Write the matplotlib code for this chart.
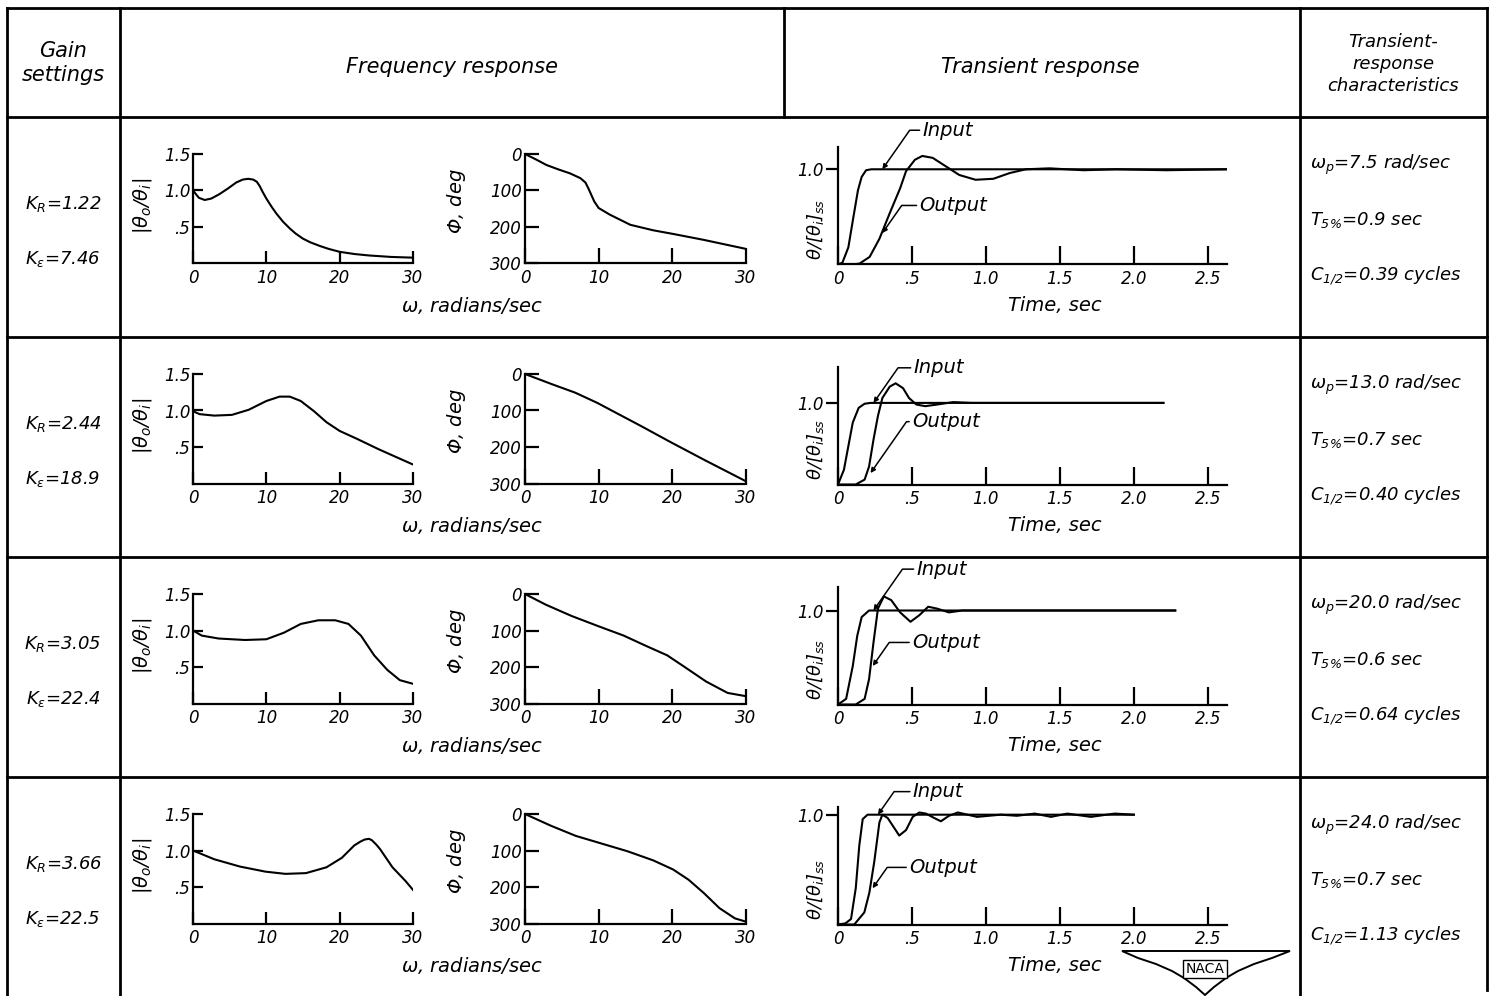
import matplotlib
matplotlib.use("Agg")
import matplotlib.pyplot as plt
from matplotlib.patches import Polygon

# ---- gain settings and transient-response characteristics, one entry per case ----
k_r = ["1.22", "2.44", "3.05", "3.66"]
k_e = ["7.46", "18.9", "22.4", "22.5"]
omega_p = ["7.5", "13.0", "20.0", "24.0"]
t_5pct = ["0.9", "0.7", "0.6", "0.7"]
c_half = ["0.39", "0.40", "0.64", "1.13"]

# ---- frequency response: amplitude ratio |theta_o/theta_i| vs omega, rad/sec ----
mag_w = [
    [0, 0.8, 1.6, 2.5, 3.6, 4.8, 5.9, 6.8, 7.5, 8.2, 8.7, 9.1, 9.5, 10, 10.7, 11.4,
     12.3, 13.2, 14, 15, 16, 17.3, 18.5, 20, 22, 24, 27, 30],
    [0, 0.9, 2.9, 5.3, 7.6, 10, 11.8, 13.2, 14.7, 16.5, 18.2, 20, 22.4, 25.3, 28.2, 30],
    [0, 1.2, 3.5, 7.1, 10, 12.4, 14.7, 17.1, 19.4, 21.2, 22.9, 24.7, 26.5, 28.2, 30],
    [0, 2.9, 6.4, 9.9, 12.6, 15.4, 18.2, 20.3, 22, 22.8, 23.4, 24.0, 24.4, 25, 25.5,
     27.2, 29, 30],
]
mag_val = [
    [1.0, 0.9, 0.87, 0.89, 0.95, 1.03, 1.11, 1.15, 1.16, 1.15, 1.12, 1.06, 0.98, 0.89,
     0.78, 0.68, 0.57, 0.48, 0.41, 0.34, 0.29, 0.24, 0.2, 0.16, 0.13, 0.11, 0.09, 0.08],
    [0.99, 0.95, 0.93, 0.94, 1.01, 1.13, 1.19, 1.19, 1.13, 0.99, 0.84, 0.72, 0.61, 0.47, 0.34, 0.26],
    [1.0, 0.93, 0.89, 0.87, 0.88, 0.97, 1.09, 1.14, 1.14, 1.09, 0.93, 0.66, 0.46, 0.32, 0.27],
    [1.0, 0.88, 0.78, 0.71, 0.68, 0.69, 0.77, 0.9, 1.07, 1.12, 1.15, 1.16, 1.14, 1.08, 1.02,
     0.77, 0.58, 0.46],
]

# ---- frequency response: phase lag, deg ----
ph_w = [
    [0, 1.5, 2.9, 4.5, 6.1, 7.5, 8.2, 8.6, 9.0, 9.4, 10, 11.5, 14.3, 17.4, 20.1, 24.2, 30],
    [0, 3.8, 6.8, 9.8, 12.7, 15.7, 19.8, 24.5, 30],
    [0, 2.8, 6.3, 9.8, 13.4, 16.3, 19.3, 21.6, 24.6, 27.5, 30],
    [0, 3.5, 6.9, 10.4, 13.9, 17.4, 20.1, 22.2, 24.3, 26.4, 28.5, 30],
]
ph_val = [
    [0, 15, 30, 42, 53, 66, 78, 94, 112, 130, 148, 166, 194, 209, 219, 235, 260],
    [0, 29, 51, 79, 110, 142, 187, 237, 294],
    [0, 29, 60, 87, 114, 141, 168, 199, 240, 271, 280],
    [0, 32, 60, 81, 102, 127, 152, 180, 217, 258, 286, 295],
]

# ---- transient response, theta/[theta_i]ss vs time, sec ----
in_t = [
    [0, 0.03, 0.07, 0.1, 0.135, 0.16, 0.19, 0.225, 2.63],
    [0, 0.04, 0.07, 0.1, 0.14, 0.18, 0.22, 2.2],
    [0, 0.055, 0.1, 0.13, 0.16, 0.21, 2.28],
    [0, 0.05, 0.088, 0.12, 0.144, 0.167, 0.2, 2.0],
]
in_val = [
    [0, 0.02, 0.18, 0.46, 0.78, 0.92, 0.99, 1.0, 1.0],
    [0, 0.18, 0.47, 0.76, 0.94, 0.99, 1.0, 1.0],
    [0, 0.06, 0.41, 0.73, 0.93, 1.0, 1.0],
    [0, 0.01, 0.05, 0.33, 0.72, 0.96, 1.0, 1.0],
]
out_t = [
    [0, 0.1, 0.146, 0.214, 0.28, 0.35, 0.42, 0.46, 0.52, 0.57, 0.64, 0.73, 0.82, 0.93,
     1.05, 1.16, 1.27, 1.43, 1.66, 1.88, 2.22, 2.63],
    [0, 0.12, 0.18, 0.21, 0.24, 0.27, 0.3, 0.35, 0.39, 0.44, 0.48, 0.53, 0.59, 0.67,
     0.78, 0.9, 2.2],
    [0, 0.12, 0.18, 0.21, 0.24, 0.27, 0.31, 0.36, 0.42, 0.49, 0.55, 0.61, 0.67, 0.75,
     0.84, 2.28],
    [0, 0.11, 0.178, 0.212, 0.245, 0.28, 0.3, 0.336, 0.37, 0.414, 0.46, 0.505, 0.55,
     0.595, 0.65, 0.696, 0.75, 0.81, 0.876, 0.94, 1.1, 1.21, 1.33, 1.44, 1.55, 1.71,
     1.87, 2.0],
]
out_val = [
    [0, 0, 0.01, 0.08, 0.27, 0.54, 0.8, 0.98, 1.1, 1.14, 1.12, 1.03, 0.94, 0.89,
     0.9, 0.96, 1.0, 1.01, 0.99, 1.0, 0.99, 1.0],
    [0, 0, 0.06, 0.22, 0.55, 0.84, 1.06, 1.2, 1.24, 1.18, 1.06, 0.98, 0.96, 0.98,
     1.01, 1.0, 1.0],
    [0, 0, 0.06, 0.27, 0.66, 1.02, 1.15, 1.11, 0.98, 0.88, 0.95, 1.04, 1.02, 0.98,
     1.0, 1.0],
    [0, 0, 0.11, 0.29, 0.57, 0.93, 1.0, 0.97, 0.9, 0.81, 0.86, 0.98, 1.02,
     1.01, 0.97, 0.94, 0.99, 1.02, 1.0, 0.98, 1.0, 0.99, 1.01, 0.98, 1.01, 0.98,
     1.01, 1.0],
]

# label positions (time, value) and the curve points their leaders point at
input_label = [(0.57, 1.41), (0.51, 1.43), (0.53, 1.44), (0.505, 1.21)]
input_tip = [(0.30, 1.0), (0.24, 1.0), (0.24, 1.0), (0.27, 1.0)]
output_label = [(0.55, 0.62), (0.50, 0.77), (0.50, 0.66), (0.48, 0.52)]
output_tip = [(0.30, 0.33), (0.22, 0.14), (0.235, 0.41), (0.234, 0.33)]

time_ticks = [0, 0.5, 1.0, 1.5, 2.0, 2.5]
time_labels = ["0", ".5", "1.0", "1.5", "2.0", "2.5"]

W, H = 1492, 996
plt.rcParams["font.family"] = ["DejaVu Sans"]
plt.rcParams["font.style"] = "italic"
plt.rcParams["mathtext.fontset"] = "dejavusans"

fig = plt.figure(figsize=(W / 100, H / 100), dpi=100)
fig.patch.set_facecolor("white")

# full-figure layer in pixel units for the ruled table and its lettering
grid = fig.add_axes([0, 0, 1, 1], zorder=0)
grid.set_xlim(0, W)
grid.set_ylim(H, 0)
grid.axis("off")

row_tops = [117, 337, 557, 777]
lw_rule = 2.0
for y in [8] + row_tops:
    grid.plot([7, 1487], [y, y], color="k", lw=lw_rule)
for x in [7, 120, 1300]:
    grid.plot([x, x], [8, 996], color="k", lw=lw_rule)
grid.plot([1487, 1487], [8, 990], color="k", lw=lw_rule)
grid.plot([784, 784], [8, 117], color="k", lw=lw_rule)

grid.text(63, 63, "Gain\nsettings", ha="center", va="center", fontsize=15, linespacing=1.3)
grid.text(452, 67, "Frequency response", ha="center", va="center", fontsize=15)
grid.text(1040, 67, "Transient response", ha="center", va="center", fontsize=15)
grid.text(1393, 64, "Transient-\nresponse\ncharacteristics", ha="center", va="center",
          fontsize=13, linespacing=1.3)


def box(left, right, top, bottom):
    return [left / W, 1 - bottom / H, (right - left) / W, (bottom - top) / H]


def style(ax):
    for side in ("top", "right"):
        ax.spines[side].set_visible(False)
    for side in ("left", "bottom"):
        ax.spines[side].set_linewidth(1.6)
    ax.set_facecolor("none")
    ax.tick_params(labelsize=12, width=1.6, colors="k")


tr_ytop = [1.234, 1.44, 1.25, 1.07]
curve = dict(color="k", lw=1.5, solid_joinstyle="round")
arrow = dict(arrowstyle="-|>", connectionstyle="angle,angleA=0,angleB=55,rad=0",
             color="k", lw=1.1, shrinkA=0, shrinkB=0, mutation_scale=7,
             relpos=(0, 0.5))

for i, top in enumerate(row_tops):
    # amplitude ratio
    ax = fig.add_axes(box(193, 413, top + 37, top + 146.5))
    style(ax)
    ax.plot(mag_w[i], mag_val[i], **curve)
    ax.set_xlim(0, 30)
    ax.set_ylim(0, 1.5)
    ax.set_xticks([0, 10, 20, 30], ["0", "10", "20", "30"])
    ax.set_yticks([0.5, 1.0, 1.5], [".5", "1.0", "1.5"])
    ax.tick_params(axis="x", direction="in", length=9, pad=4)
    ax.tick_params(axis="y", direction="in", length=7, pad=2)

    # phase
    ax = fig.add_axes(box(525, 746, top + 37, top + 146.5))
    style(ax)
    ax.plot(ph_w[i], ph_val[i], **curve)
    ax.set_xlim(0, 30)
    ax.set_ylim(300, 0)
    ax.set_xticks([0, 10, 20, 30], ["0", "10", "20", "30"])
    ax.set_yticks([0, 100, 200, 300], ["0", "100", "200", "300"])
    ax.tick_params(axis="x", direction="in", length=11, pad=4)
    ax.tick_params(axis="y", direction="in", length=10, pad=2)

    # transient
    ax = fig.add_axes(box(838, 1227, top + 30, top + 147.5))
    style(ax)
    ax.plot(in_t[i], in_val[i], **curve)
    ax.plot(out_t[i], out_val[i], **curve)
    ax.set_xlim(0, 2.63)
    ax.set_ylim(0, tr_ytop[i])
    ax.set_xticks(time_ticks, time_labels)
    ax.set_yticks([1.0], ["1.0"])
    ax.tick_params(axis="x", direction="in", length=13, pad=4)
    ax.tick_params(axis="y", direction="out", length=9, pad=1)
    ax.annotate("Input", xy=input_tip[i], xytext=input_label[i], ha="left", va="center",
                fontsize=14, arrowprops=arrow, annotation_clip=False)
    ax.annotate("Output", xy=output_tip[i], xytext=output_label[i], ha="left", va="center",
                fontsize=14, arrowprops=arrow, annotation_clip=False)

    # axis titles
    grid.text(142, top + 89, r"$|\theta_o/\theta_i|$", rotation=90, ha="center", va="center",
              fontsize=14)
    grid.text(457, top + 84, r"$\Phi$, deg", rotation=90, ha="center", va="center", fontsize=14)
    grid.text(815, top + 112, r"$\theta/[\theta_i]_{ss}$", rotation=90, ha="center",
              va="center", fontsize=13)
    grid.text(472, top + 188, r"$\omega$, radians/sec", ha="center", va="center", fontsize=14)
    grid.text(1055, top + 188, "Time, sec", ha="center", va="center", fontsize=14)

    # gain settings
    grid.text(63, top + 87, r"$K_R$=" + k_r[i], ha="center", va="center", fontsize=13)
    grid.text(63, top + 142, r"$K_\epsilon$=" + k_e[i], ha="center", va="center", fontsize=13)

    # transient-response characteristics
    grid.text(1310, top + 48, r"$\omega_p$=" + omega_p[i] + " rad/sec", ha="left",
              va="center", fontsize=13)
    grid.text(1310, top + 103, r"$T_{5\%}$=" + t_5pct[i] + " sec", ha="left", va="center",
              fontsize=13)
    grid.text(1310, top + 159, r"$C_{1/2}$=" + c_half[i] + " cycles", ha="left",
              va="center", fontsize=13)

# NACA wing emblem
wing = [(1122, 951), (1290, 951), (1272, 958), (1254, 964), (1238, 971), (1226, 978),
        (1214, 987), (1205, 995), (1196, 987), (1184, 978), (1172, 971), (1156, 964),
        (1138, 958)]
grid.add_patch(Polygon(wing, closed=True, facecolor="white", edgecolor="k", lw=1.4))
grid.text(1205, 969, "NACA", ha="center", va="center", fontsize=10, style="normal",
          bbox=dict(boxstyle="square,pad=0.15", facecolor="white", edgecolor="k", lw=1.0))

fig.savefig("out.png", dpi=100)
